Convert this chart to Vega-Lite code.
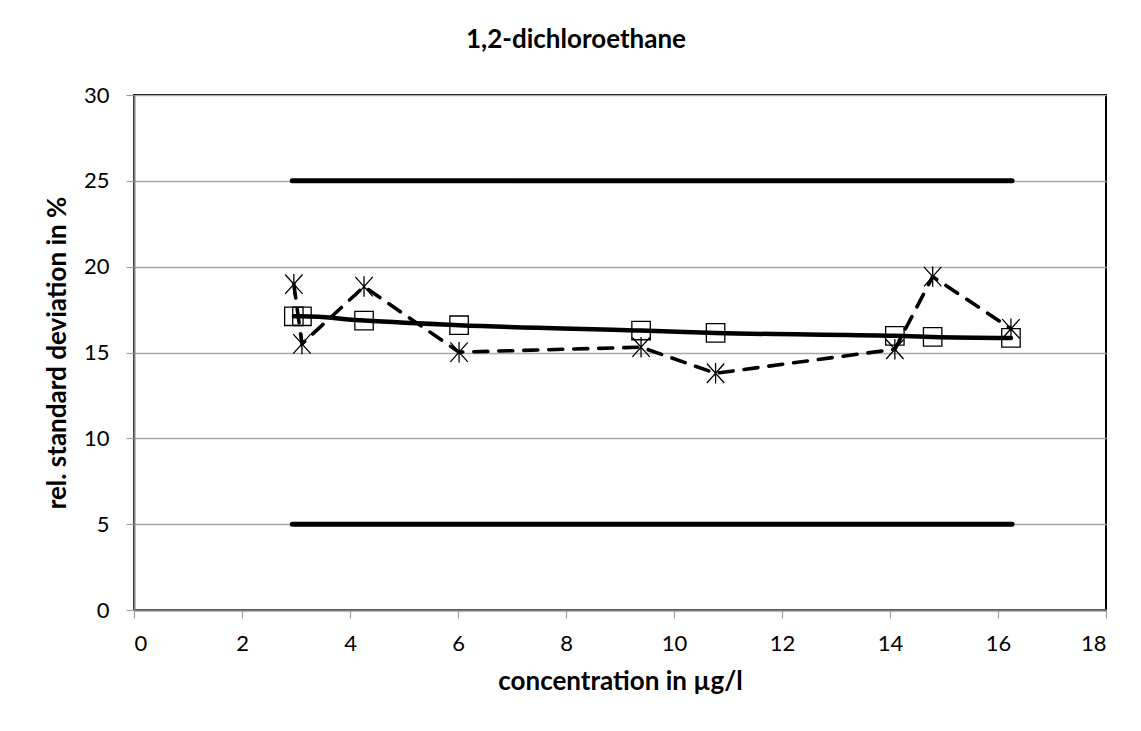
{
  "$schema": "https://vega.github.io/schema/vega-lite/v6.json",
  "width": 972,
  "height": 515,
  "autosize": {"type": "none"},
  "padding": {"left": 134, "top": 95, "right": 35, "bottom": 121},
  "background": "white",
  "title": {
    "text": "1,2-dichloroethane",
    "font": "Lato",
    "fontSize": 26,
    "fontWeight": "bold",
    "color": "black",
    "anchor": "middle",
    "dx": -44,
    "offset": 31
  },
  "config": {
    "view": {"stroke": "black", "strokeWidth": 2},
    "axis": {
      "labelFont": "Lato",
      "labelFontSize": 22,
      "labelColor": "black",
      "titleFont": "Lato",
      "titleFontSize": 26,
      "titleFontWeight": "bold",
      "titleColor": "black",
      "domainColor": "#808080",
      "domainWidth": 2,
      "tickColor": "#a0a0a0",
      "tickSize": 8,
      "tickWidth": 1.2,
      "gridColor": "#a8a8a8",
      "gridWidth": 1.3
    }
  },
  "datasets": {
    "points": [
      {"conc": 2.96, "fit": 17.11, "rsd": 18.98},
      {"conc": 3.11, "fit": 17.11, "rsd": 15.50},
      {"conc": 4.26, "fit": 16.86, "rsd": 18.84},
      {"conc": 6.02, "fit": 16.59, "rsd": 15.02},
      {"conc": 9.39, "fit": 16.28, "rsd": 15.31},
      {"conc": 10.77, "fit": 16.14, "rsd": 13.79},
      {"conc": 14.09, "fit": 15.97, "rsd": 15.19},
      {"conc": 14.79, "fit": 15.91, "rsd": 19.42},
      {"conc": 16.24, "fit": 15.85, "rsd": 16.38}
    ],
    "limits": [
      {"conc": 2.93, "limit": 25, "bound": "upper"},
      {"conc": 16.26, "limit": 25, "bound": "upper"},
      {"conc": 2.93, "limit": 5, "bound": "lower"},
      {"conc": 16.26, "limit": 5, "bound": "lower"}
    ]
  },
  "encoding": {
    "x": {
      "type": "quantitative",
      "scale": {"domain": [0, 18], "nice": false},
      "axis": {
        "title": "concentration in µg/l",
        "values": [0, 2, 4, 6, 8, 10, 12, 14, 16, 18],
        "grid": false,
        "labelPadding": 15,
        "titlePadding": 14
      }
    },
    "y": {
      "type": "quantitative",
      "scale": {"domain": [0, 30], "nice": false},
      "axis": {
        "title": "rel. standard deviation in %",
        "values": [0, 5, 10, 15, 20, 25, 30],
        "grid": true,
        "labelPadding": 17,
        "titlePadding": 13
      }
    }
  },
  "layer": [
    {
      "data": {"name": "limits"},
      "mark": {"type": "line", "color": "black", "strokeWidth": 5, "strokeCap": "round"},
      "encoding": {
        "x": {"field": "conc", "type": "quantitative"},
        "y": {"field": "limit", "type": "quantitative"},
        "detail": {"field": "bound"}
      }
    },
    {
      "data": {"name": "points"},
      "mark": {"type": "line", "color": "black", "strokeWidth": 4.5, "strokeCap": "round", "interpolate": "monotone"},
      "encoding": {
        "x": {"field": "conc", "type": "quantitative"},
        "y": {"field": "fit", "type": "quantitative"}
      }
    },
    {
      "data": {"name": "points"},
      "mark": {"type": "line", "color": "black", "strokeWidth": 3.6, "strokeDash": [14, 11], "strokeCap": "round"},
      "encoding": {
        "x": {"field": "conc", "type": "quantitative"},
        "y": {"field": "rsd", "type": "quantitative"}
      }
    },
    {
      "data": {"name": "points"},
      "mark": {"type": "point", "shape": "square", "filled": false, "stroke": "black", "strokeWidth": 1.3, "size": 340, "opacity": 1},
      "encoding": {
        "x": {"field": "conc", "type": "quantitative"},
        "y": {"field": "fit", "type": "quantitative"}
      }
    },
    {
      "data": {"name": "points"},
      "mark": {"type": "point", "shape": "M0,-1L0,1M-0.85,-0.95L0.85,0.95M-0.85,0.95L0.85,-0.95", "filled": false, "stroke": "black", "strokeWidth": 1.3, "size": 420, "opacity": 1},
      "encoding": {
        "x": {"field": "conc", "type": "quantitative"},
        "y": {"field": "rsd", "type": "quantitative"}
      }
    }
  ]
}
